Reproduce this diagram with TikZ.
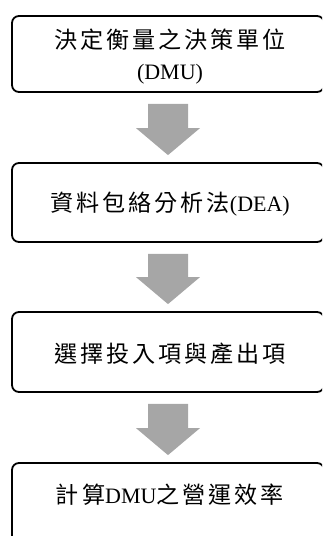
\documentclass[tikz,border=0pt]{standalone}
\usepackage{fontspec}
\setmainfont{Liberation Serif}
\newfontfamily\cjk{Noto Sans CJK TC}[Scale=1.05, LetterSpace=13]
\usetikzlibrary{calc}
\definecolor{arrowgray}{HTML}{A6A6A6}
\tikzset{
  stepbox/.style={draw=black, line width=1.8pt, rounded corners=7pt, minimum width=312pt, inner sep=0pt},
  steptext/.style={font=\fontsize{22pt}{31pt}\selectfont, align=center, inner sep=0pt},
  blockarrow/.style={fill=arrowgray, draw=none}
}
\newcommand\blockdown[2]{%
  \fill[blockarrow] ($(#1.south)+(-20,11)$) -- ($(#1.south)+(20,11)$)
    -- ($(#2.north)+(20,-34)$) -- ($(#2.north)+(32,-34)$)
    -- ($(#2.north)+(0,-7)$) -- ($(#2.north)+(-32,-34)$)
    -- ($(#2.north)+(-20,-34)$) -- cycle;}
\begin{document}
\begin{tikzpicture}[x=1pt, y=-1pt]
\useasboundingbox (0,0) rectangle (322,536);
\clip (0,0) rectangle (322,536);
\node[stepbox, minimum height=76pt] (b1) at (168,54) {};
\node[stepbox, minimum height=79pt] (b2) at (168,202.5) {};
\node[stepbox, minimum height=80pt] (b3) at (168,352) {};
\node[stepbox, minimum height=82pt] (b4) at (168,504) {};
\node[steptext] (t1) at (170,57) {{\cjk 決定衡量之決策單位}\\(DMU)};
\node[steptext] (t2) at (170,204) {{\cjk 資料包絡分析法}(DEA)};
\node[steptext] (t3) at (170,354) {{\cjk 選擇投入項與產出項}};
\node[steptext] (t4) at (170,495) {{\cjk 計算}DMU{\cjk 之營運效率}};
\blockdown{b1}{b2}
\blockdown{b2}{b3}
\blockdown{b3}{b4}
\end{tikzpicture}
\end{document}
